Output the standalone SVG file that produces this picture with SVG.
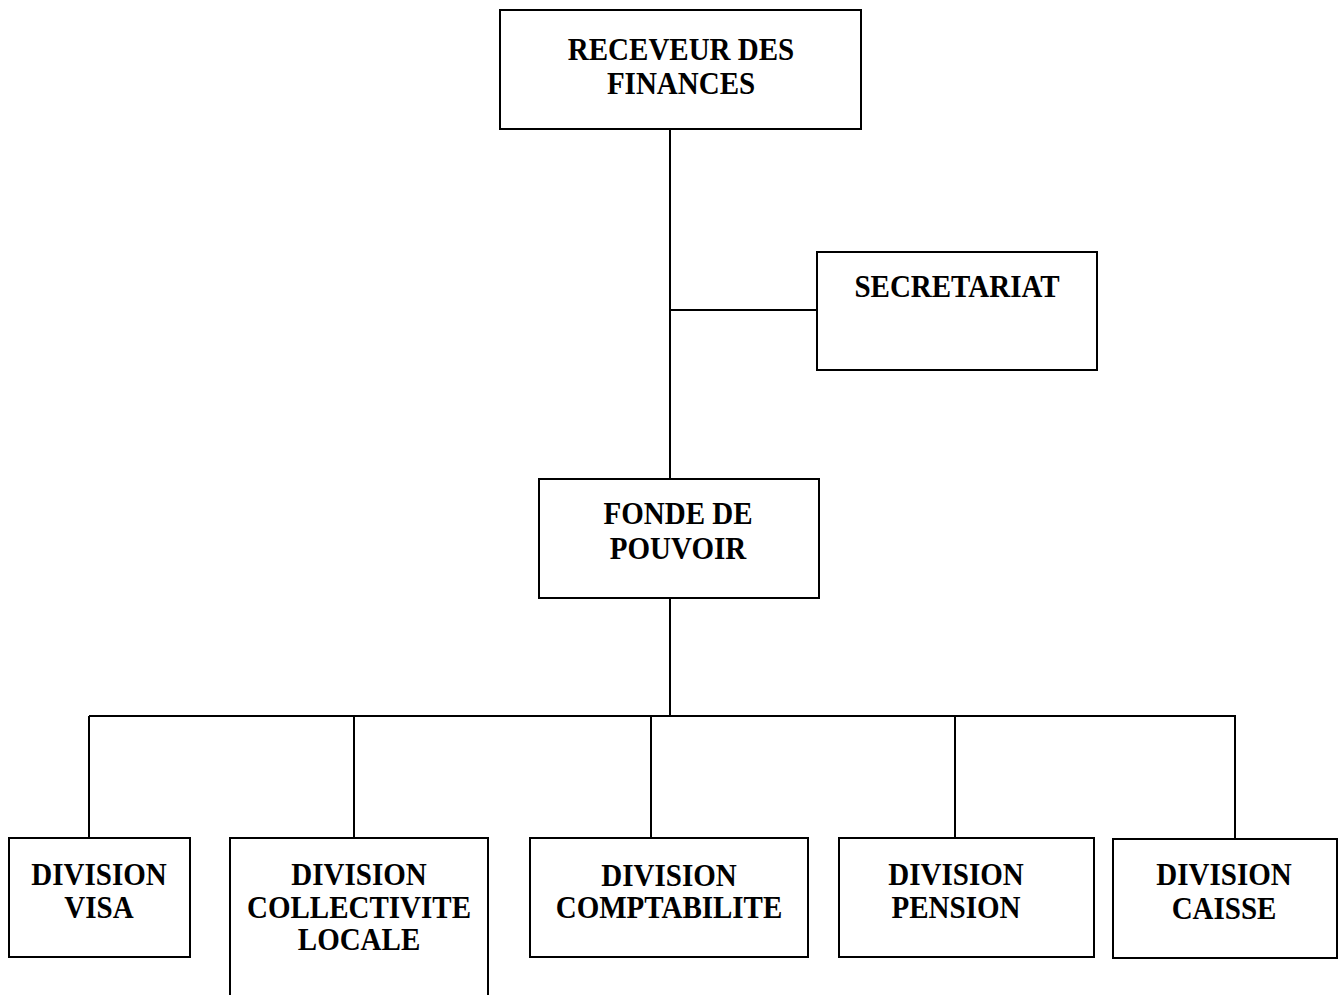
<svg xmlns="http://www.w3.org/2000/svg" width="1343" height="995" viewBox="0 0 1343 995">
<style>
.box{fill:#fff;stroke:#000;stroke-width:2}
.ln{fill:none;stroke:#000;stroke-width:2}
text{font-family:"Liberation Serif","Times New Roman",serif;font-weight:bold;font-size:29px;text-anchor:middle;fill:#000}
</style>
<rect width="1343" height="995" fill="#fff"/>
<g id="connectors">
<path class="ln" d="M670,129 V479 M670,310 H817 M670,598 V716 M89,716 H1236 M89,716 V838 M354,716 V838 M651,716 V838 M955,716 V838 M1235,716 V839"/>
</g>
<g id="receveur">
<rect class="box" x="500" y="10" width="361" height="119"/>
<g transform="translate(681,60) scale(1,1.08)"><text y="0">RECEVEUR DES</text><text y="31.5">FINANCES</text></g>
</g>
<g id="secretariat">
<rect class="box" x="817" y="252" width="280" height="118"/>
<g transform="translate(957,297) scale(1,1.08)"><text y="0">SECRETARIAT</text></g>
</g>
<g id="fonde">
<rect class="box" x="539" y="479" width="280" height="119"/>
<g transform="translate(678,524) scale(1,1.08)"><text y="0">FONDE DE</text><text y="32.4">POUVOIR</text></g>
</g>
<g id="visa">
<rect class="box" x="9" y="838" width="181" height="119"/>
<g transform="translate(99,885) scale(1,1.08)"><text y="0">DIVISION</text><text y="30.6">VISA</text></g>
</g>
<g id="collectivite">
<path class="ln" d="M230,996 V838 H488 V996"/>
<g transform="translate(359,885) scale(1,1.08)"><text y="0">DIVISION</text><text y="30.6">COLLECTIVITE</text><text y="60.2">LOCALE</text></g>
</g>
<g id="comptabilite">
<rect class="box" x="530" y="838" width="278" height="119"/>
<g transform="translate(669,886) scale(1,1.08)"><text y="0">DIVISION</text><text y="29.6">COMPTABILITE</text></g>
</g>
<g id="pension">
<rect class="box" x="839" y="838" width="255" height="119"/>
<g transform="translate(956,885) scale(1,1.08)"><text y="0">DIVISION</text><text y="30.6">PENSION</text></g>
</g>
<g id="caisse">
<rect class="box" x="1113" y="839" width="224" height="119"/>
<g transform="translate(1224,885) scale(1,1.08)"><text y="0">DIVISION</text><text y="31.5">CAISSE</text></g>
</g>
</svg>
